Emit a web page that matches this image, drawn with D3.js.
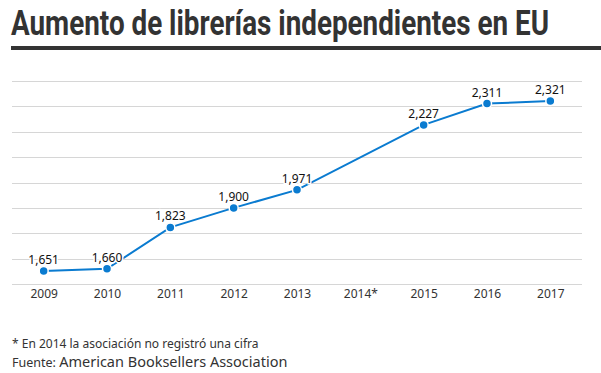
<!DOCTYPE html>
<html>
<head>
<meta charset="utf-8">
<script src="https://cdn.jsdelivr.net/npm/d3@7"></script>
<style>
body { margin: 0; background: #fff; }
svg { display: block; }
.titulo { font-family: Roboto, "Noto Sans", sans-serif; font-weight: bold; fill: #333; }
.eje text { font-family: "Noto Sans", sans-serif; font-size: 12px; fill: #333; }
.etiqueta { font-family: "Noto Sans", sans-serif; font-size: 12px; fill: #111; }
.nota { font-family: "Noto Sans", sans-serif; fill: #333; }
</style>
</head>
<body>
<div id="graf"></div>
<script>
// Datos
const anios = ["2009", "2010", "2011", "2012", "2013", "2014*", "2015", "2016", "2017"]
const valores = [1651, 1660, 1823, 1900, 1971, null, 2227, 2311, 2321]
const marcas = [1600, 1700, 1800, 1900, 2000, 2100, 2200, 2300, 2400]

const anchoTotal = 601
const altoTotal = 373

const svg = d3.select("#graf").append("svg")
    .attr("width", anchoTotal)
    .attr("height", altoTotal)

// Titulo (fuente condensada a lo ancho)
svg.append("text")
    .attr("x", 11)
    .attr("y", 35)
    .attr("font-size", 35)
    .attr("textLength", 538)
    .attr("lengthAdjust", "spacingAndGlyphs")
    .classed("titulo", true)
    .text("Aumento de librerías independientes en EU")

svg.append("rect")
    .attr("x", 11)
    .attr("y", 46)
    .attr("width", anchoTotal - 11)
    .attr("height", 4)
    .attr("fill", "#333")

// Escaladores
const x = d3.scalePoint()
    .domain(anios)
    .range([12, 582])
    .padding(0.5)

const y = d3.scaleLinear()
    .domain([1600, 2400])
    .range([284, 81])

// Cuadricula
const g = svg.append("g")
g.selectAll("line.grid")
    .data(marcas)
    .enter()
    .append("line")
    .attr("class", "grid")
    .attr("x1", 12)
    .attr("x2", 582)
    .attr("y1", d => Math.round(y(d)) + 0.5)
    .attr("y2", d => Math.round(y(d)) + 0.5)
    .attr("stroke", "#d6d6d6")
    .attr("stroke-width", 1)

// Eje x
const xAxis = d3.axisBottom(x).tickSize(0).tickPadding(0)
g.append("g")
    .attr("transform", `translate(0, 289)`)
    .classed("eje", true)
    .call(xAxis)
    .call(a => a.select(".domain").remove())
    .selectAll("text")
    .attr("dy", "0.71em")

// Linea
const datos = anios.map((a, i) => ({ anio: a, valor: valores[i] })).filter(d => d.valor != null)

const linea = d3.line()
    .x(d => x(d.anio))
    .y(d => y(d.valor))

g.append("path")
    .datum(datos)
    .attr("d", linea)
    .attr("fill", "none")
    .attr("stroke", "#0a7bd0")
    .attr("stroke-width", 2)

// Etiquetas
g.selectAll("text.etiqueta")
    .data(datos)
    .enter()
    .append("text")
    .attr("class", "etiqueta")
    .attr("x", d => x(d.anio))
    .attr("y", d => y(d.valor) - 7)
    .attr("text-anchor", "middle")
    .attr("stroke", "#fff")
    .attr("stroke-width", 3)
    .attr("paint-order", "stroke")
    .text(d => d3.format(",")(d.valor))

// Puntos
g.selectAll("circle")
    .data(datos)
    .enter()
    .append("circle")
    .attr("cx", d => x(d.anio))
    .attr("cy", d => y(d.valor))
    .attr("r", 4.5)
    .attr("fill", "#0a7bd0")
    .attr("stroke", "#fff")
    .attr("stroke-width", 1.5)

// Notas
svg.append("text")
    .attr("x", 12)
    .attr("y", 348)
    .attr("font-size", 12)
    .classed("nota", true)
    .text("* En 2014 la asociación no registró una cifra")

const fuente = svg.append("text")
    .attr("x", 12)
    .attr("y", 367)
    .classed("nota", true)
fuente.append("tspan").attr("font-size", 12.5).text("Fuente: ")
fuente.append("tspan").attr("font-size", 14.5).text("American Booksellers Association")
</script>
</body>
</html>
